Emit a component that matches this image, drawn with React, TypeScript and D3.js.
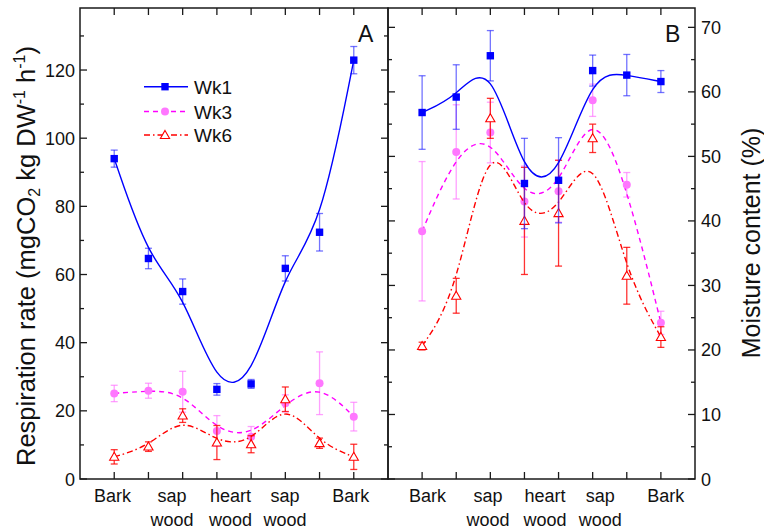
import React from 'react';
import * as d3 from 'd3';

// ---- data ----
const positions = [1, 2, 3, 4, 5, 6, 7, 8];
const xLabels = [["Bark"], ["sap", "wood"], ["heart", "wood"], ["sap", "wood"], ["Bark"]];
const seriesNames = ["Wk1", "Wk3", "Wk6"];

const respWk1 = [94.0, 64.7, 55.0, 26.3, 27.9, 61.8, 72.4, 122.9];
const respWk1Err = [2.5, 3.0, 3.7, 1.7, 1.3, 3.7, 5.5, 4.0];
const respWk3 = [25.1, 25.9, 25.6, 14.1, 12.4, 22.2, 28.1, 18.3];
const respWk3Err = [2.4, 2.2, 6.0, 4.5, 3.0, 2.5, 9.2, 4.2];
const respWk6 = [6.5, 9.5, 18.6, 10.7, 10.2, 23.4, 10.5, 6.5];
const respWk6Err = [2.1, 1.4, 2.0, 5.0, 2.5, 3.6, 1.5, 3.7];

const moistWk1 = [56.8, 59.2, 65.6, 45.8, 46.3, 63.3, 62.6, 61.6];
const moistWk1Err = [5.7, 5.0, 3.9, 7.0, 6.6, 2.4, 3.2, 1.7];
const moistWk3 = [38.4, 50.7, 53.7, 43.0, 44.6, 58.7, 45.6, 24.2];
const moistWk3Err = [10.8, 7.3, 4.7, 5.5, 4.8, 2.5, 1.9, 1.8];
const moistWk6 = [20.6, 28.4, 55.9, 40.0, 41.2, 52.8, 31.5, 22.0];
const moistWk6Err = [0.6, 2.7, 3.1, 8.3, 8.2, 2.2, 4.4, 1.6];

const respTicks = [0, 20, 40, 60, 80, 100, 120];
const moistTicks = [0, 10, 20, 30, 40, 50, 60, 70];

// ---- styles ----
const FONT = "'Liberation Sans', Arial, Helvetica, sans-serif";
const AXIS = "#1a1a1a";
const styles: Record<string, any> = {
  Wk1: { line: "#0000ff", dash: "none", err: "rgba(40,40,255,0.65)", marker: "square" },
  Wk3: { line: "#ff00ff", dash: "5,4", err: "rgba(255,120,255,0.7)", marker: "circle" },
  Wk6: { line: "#ff0000", dash: "6,3,1.5,3", err: "rgba(255,0,0,0.8)", marker: "triangle" },
};

const W = 764, H = 532;
const TOP = 8, BOTTOM = 479;

function Marker({ type, x, y }: { type: string; x: number; y: number }) {
  if (type === "square") return <rect x={x - 3.7} y={y - 3.7} width={7.4} height={7.4} fill="#0000ff" />;
  if (type === "circle") return <circle cx={x} cy={y} r={4} fill="#ff77ff" />;
  const s = 4.6;
  return (
    <path
      d={`M${x},${y - s}L${x + s},${y + s * 0.75}L${x - s},${y + s * 0.75}Z`}
      fill="white"
      stroke="#ff0000"
      strokeWidth={1.1}
    />
  );
}

function Series({ name, vals, errs, x, y }: any) {
  const st = styles[name];
  const line = d3.line<number>().x((_, i) => x(positions[i])).y((d) => y(d)).curve(d3.curveBasis);
  return (
    <g>
      {vals.map((v: number, i: number) => {
        const cx = x(positions[i]);
        const y1 = y(v + errs[i]), y2 = y(v - errs[i]);
        return (
          <g key={i} stroke={st.err} strokeWidth={1.3}>
            <line x1={cx} x2={cx} y1={y1} y2={y2} />
            <line x1={cx - 3.5} x2={cx + 3.5} y1={y1} y2={y1} />
            <line x1={cx - 3.5} x2={cx + 3.5} y1={y2} y2={y2} />
          </g>
        );
      })}
      <path d={line(vals) || ""} fill="none" stroke={st.line} strokeWidth={1.4} strokeDasharray={st.dash} />
      {vals.map((v: number, i: number) => (
        <Marker key={i} type={st.marker} x={x(positions[i])} y={y(v)} />
      ))}
    </g>
  );
}

function Panel({ x0, x1, yMax, major, minor, data, letter, labelPos, side }: any) {
  const x = d3.scaleLinear().domain([0, 9]).range([x0, x1]);
  const y = d3.scaleLinear().domain([0, yMax]).range([BOTTOM, TOP]);
  const minorTicks = d3.range(0, yMax + 0.001, minor);
  const els: any[] = [];
  els.push(<rect key="frame" x={x0} y={TOP} width={x1 - x0} height={BOTTOM - TOP} fill="none" stroke={AXIS} strokeWidth={1.5} />);
  positions.forEach((p) => {
    const px = x(p);
    els.push(<line key={"xb" + p} x1={px} x2={px} y1={BOTTOM} y2={BOTTOM - 7} stroke={AXIS} strokeWidth={1.3} />);
    els.push(<line key={"xt" + p} x1={px} x2={px} y1={TOP} y2={TOP + 7} stroke={AXIS} strokeWidth={1.3} />);
  });
  minorTicks.forEach((t: number) => {
    const isMajor = Math.abs(t / major - Math.round(t / major)) < 1e-6;
    const len = isMajor ? 7 : 4;
    const py = y(t);
    els.push(<line key={"yl" + t} x1={x0} x2={x0 + len} y1={py} y2={py} stroke={AXIS} strokeWidth={1.3} />);
    els.push(<line key={"yr" + t} x1={x1} x2={x1 - len} y1={py} y2={py} stroke={AXIS} strokeWidth={1.3} />);
  });
  return (
    <g>
      {els}
      {data.map((s: any) => (
        <Series key={s.name} name={s.name} vals={s.vals} errs={s.errs} x={x} y={y} />
      ))}
      <text x={x1 - 30} y={42} fontSize={23} fontFamily={FONT} fill="#111">{letter}</text>
      {xLabels.map((lines, i) => (
        <text key={i} textAnchor="middle" fontSize={18} fontFamily={FONT} fill="#111">
          {lines.map((l, j) => (
            <tspan key={j} x={x(labelPos[i])} y={502 + j * 24}>{l}</tspan>
          ))}
        </text>
      ))}
      {(side === "left" ? respTicks : moistTicks).map((t: number) => (
        <text
          key={"lab" + t}
          x={side === "left" ? x0 - 5 : x1 + 6}
          y={y(t) + 6.5}
          textAnchor={side === "left" ? "end" : "start"}
          fontSize={18}
          fontFamily={FONT}
          fill="#111"
        >
          {t}
        </text>
      ))}
    </g>
  );
}

export default function App() {
  const respData = [
    { name: "Wk3", vals: respWk3, errs: respWk3Err },
    { name: "Wk6", vals: respWk6, errs: respWk6Err },
    { name: "Wk1", vals: respWk1, errs: respWk1Err },
  ];
  const moistData = [
    { name: "Wk3", vals: moistWk3, errs: moistWk3Err },
    { name: "Wk6", vals: moistWk6, errs: moistWk6Err },
    { name: "Wk1", vals: moistWk1, errs: moistWk1Err },
  ];
  const legendY = [86.7, 111.5, 135];
  return (
    <svg width={W} height={H} style={{ position: "absolute", left: 0, top: 0, background: "white" }}>
      <rect x={0} y={0} width={W} height={H} fill="white" />
      <Panel x0={80} x1={388} yMax={138.2} major={20} minor={10} data={respData} letter="A"
        labelPos={[0.95, 2.69, 4.4, 5.99, 7.91]} side="left" />
      <Panel x0={388} x1={695} yMax={73} major={10} minor={5} data={moistData} letter="B"
        labelPos={[1.16, 2.93, 4.6, 6.22, 8.14]} side="right" />
      {seriesNames.map((n, i) => (
        <g key={n}>
          <line x1={144} x2={188} y1={legendY[i]} y2={legendY[i]} stroke={styles[n].line} strokeWidth={1.4} strokeDasharray={styles[n].dash} />
          <Marker type={styles[n].marker} x={165} y={legendY[i]} />
          <text x={194} y={legendY[i] + 7} fontSize={19} fontFamily={FONT} fill="#111">{n}</text>
        </g>
      ))}
      <text transform="translate(35,256) rotate(-90)" textAnchor="middle" fontSize={25.5} fontFamily={FONT} fill="#111">
        Respiration rate (mgCO<tspan fontSize={16} dy={5}>2</tspan>
        <tspan dy={-5}> kg DW</tspan>
        <tspan fontSize={16} dy={-10}>-1</tspan>
        <tspan dy={10}> h</tspan>
        <tspan fontSize={16} dy={-10}>-1</tspan>
        <tspan dy={10}>)</tspan>
      </text>
      <text transform="translate(760,243) rotate(-90)" textAnchor="middle" fontSize={25} fontFamily={FONT} fill="#111">
        Moisture content (%)
      </text>
    </svg>
  );
}
